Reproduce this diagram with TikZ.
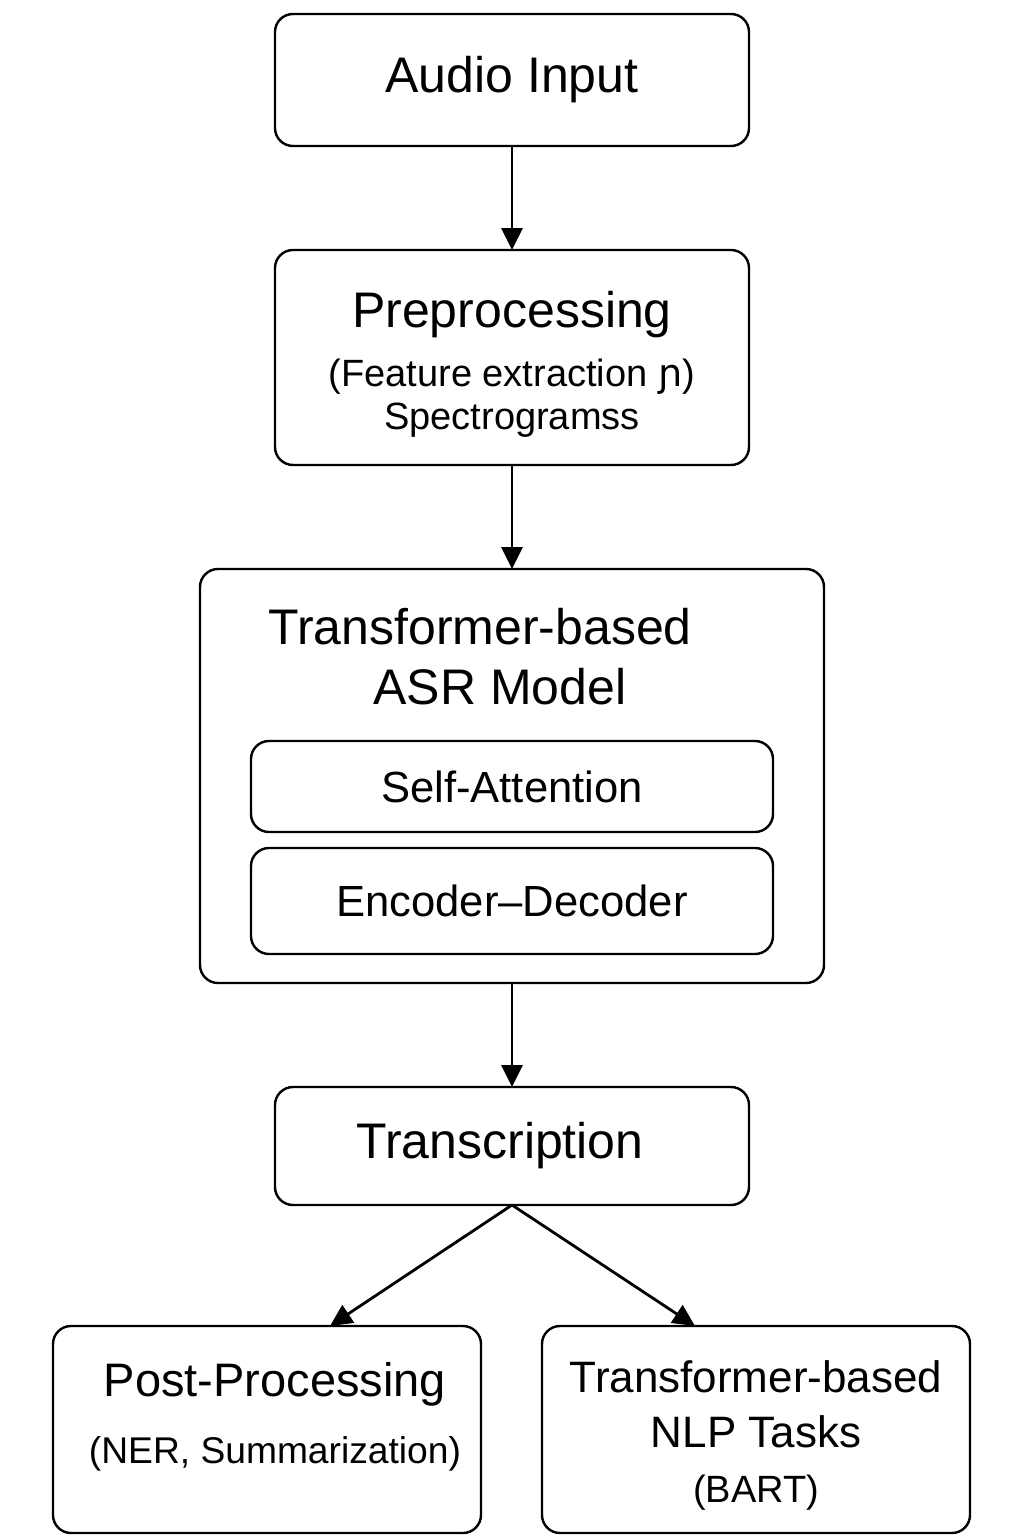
\documentclass[tikz,border=0pt]{standalone}
\usepackage{fontspec}
\setmainfont{Liberation Sans}
\newfontfamily\glyphfont{DejaVu Sans}
\usetikzlibrary{arrows.meta, positioning, calc}

\begin{document}
\begin{tikzpicture}[
        node distance=52pt,
        box/.style={draw, rounded corners=9pt, line width=1.2pt, outer sep=0pt, align=center, minimum width=237pt},
        bigbox/.style={draw, rounded corners=9pt, line width=1.2pt, outer sep=0pt, minimum width=312pt, minimum height=207pt},
        layerbox/.style={draw, rounded corners=9pt, line width=1.2pt, outer sep=0pt, minimum width=261pt, font=\fontsize{21.8}{26}\selectfont},
        outbox/.style={draw, rounded corners=9pt, line width=1.2pt, outer sep=0pt, align=center, minimum width=214pt, minimum height=103.5pt},
        bigfont/.style={font=\fontsize{25}{30}\selectfont},
        subfont/.style={font=\fontsize{19}{21.5}\selectfont},
        arrow/.style={-{Triangle[length=11pt, width=10.5pt]}, line width=1.4pt}
    ]
    \useasboundingbox (-256pt,40pt) rectangle (256pt,-728pt);
    \node[box, bigfont, minimum height=66pt] (audio) at (0,0) {Audio Input};
    \node[box, minimum height=107.5pt, below=of audio] (pre) {};
    \node[subfont, align=center] (pretext) at ([yshift=-3.5pt]pre.center) {{\fontsize{25}{30}\selectfont Preprocessing}\\[8pt](Feature extraction {\glyphfont ɲ})\\Spectrogramss};
    \node[bigbox, below=of pre] (asr) {};
    \node[bigfont] (asrtitle) at ([xshift=-16pt, yshift=-29pt]asr.north) {Transformer-based};
    \node[bigfont] (asrmodel) at ([xshift=-6pt, yshift=-59pt]asr.north) {ASR Model};
    \node[layerbox, minimum height=45.5pt, below=86pt of asr.north] (selfatt) {Self-Attention};
    \node[layerbox, minimum height=53pt, below=8pt of selfatt] (encdec) {Encoder--Decoder};
    \node[box, bigfont, minimum height=59pt, below=of asr] (trans) {Transcription\hspace*{12pt}};
    \node[outbox, below=60.5pt of trans, xshift=-122.5pt] (post) {};
    \node[align=center, font=\fontsize{18.6}{21.5}\selectfont] (posttext) at ([xshift=4pt, yshift=6.5pt]post.center) {{\fontsize{23.5}{28}\selectfont Post-Processing}\\[12pt](NER, Summarization)};
    \node[outbox, below=60.5pt of trans, xshift=122pt] (nlp) {};
    \node[align=center, font=\fontsize{22}{27.5}\selectfont] (nlptext) at ([yshift=-3pt]nlp.center) {Transformer-based\\NLP Tasks\\{\fontsize{19}{22}\selectfont (BART)}};
    \draw[arrow] (audio) -- (pre);
    \draw[arrow] (pre) -- (asr);
    \draw[arrow] (asr) -- (trans);
    \draw[arrow] (trans.south) -- ([xshift=31.5pt]post.north);
    \draw[arrow] (trans.south) -- ([xshift=-30.5pt]nlp.north);
\end{tikzpicture}
\end{document}
